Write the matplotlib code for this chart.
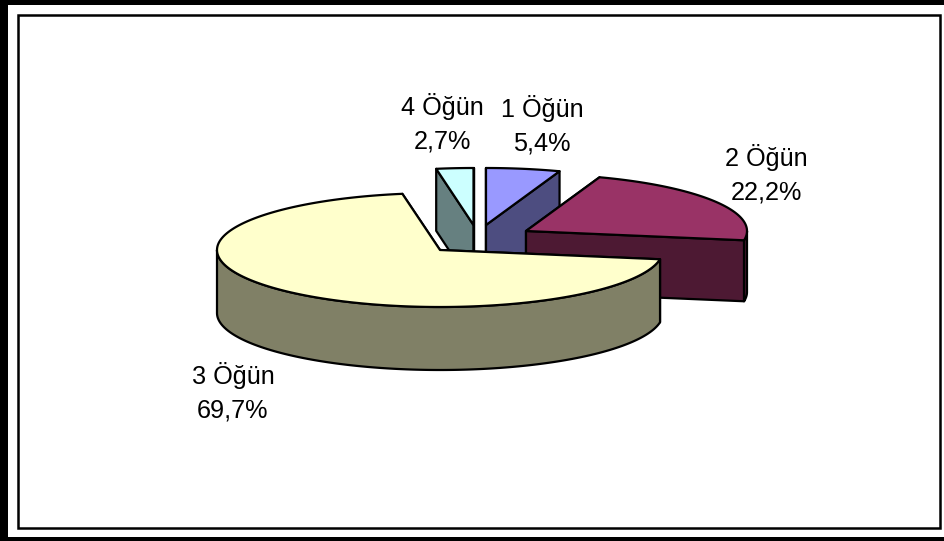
import numpy as np
import matplotlib
matplotlib.use('Agg')
import matplotlib.pyplot as plt
from matplotlib.patches import Rectangle, Polygon

plt.rcParams['font.family'] = ['Liberation Sans', 'DejaVu Sans']

names = ['1 Öğün', '2 Öğün', '3 Öğün', '4 Öğün']
values = [5.4, 22.2, 69.7, 2.7]

top_colors = ['#9999FF', '#993366', '#FFFFCC', '#CCFFFF']
side_colors = ['#4D4D80', '#4D1933', '#808066', '#668080']

# pie tip of every slice (they are pulled apart), pixels
tips = [(486, 225), (526, 231), (440, 250), (473.5, 225)]
radii = [221, 221, 223, 221]
depths = [62, 61, 63, 62]
label_pos = [(542, 125), (766, 174), (233, 392), (442, 123.5)]
ry = 57

fig = plt.figure(figsize=(9.45, 5.41), dpi=100)
ax = fig.add_axes([0, 0, 1, 1])
ax.set_xlim(0, 945)
ax.set_ylim(541, 0)
ax.axis('off')

# outer black border, then the thin chart frame
ax.add_patch(Rectangle((0, 0), 945, 5, color='black', lw=0))
ax.add_patch(Rectangle((0, 537), 945, 4, color='black', lw=0))
ax.add_patch(Rectangle((0, 0), 7.5, 541, color='black', lw=0))
ax.add_patch(Rectangle((18, 15), 922, 513, fill=False, ec='black', lw=1.8))


def arc(tip, rx, a1, a2):
    t = np.radians(np.linspace(a1, a2, 200))
    return np.column_stack([tip[0] + rx * np.cos(t), tip[1] - ry * np.sin(t)])


def face(points, color):
    ax.add_patch(Polygon(points, closed=True, fc=color, ec='black', lw=1.6, joinstyle='round'))


def draw_slice(i, a1, a2):
    tip = np.array(tips[i], dtype=float)
    rx = radii[i]
    down = np.array([0, depths[i]])
    rim = arc(tip, rx, a1, a2)
    # cut walls first, the one facing us decides what is seen
    for end in (rim[0], rim[-1]):
        face([tip, end, end + down, tip + down], side_colors[i])
    # outer wall, only the front half of the ellipse
    lo, hi = min(a1, a2), max(a1, a2)
    for k in (-360, 0):
        s, e = max(lo, 180 + k), min(hi, 360 + k)
        if s < e:
            part = arc(tip, rx, s, e)
            face(np.vstack([part, (part + down)[::-1]]), side_colors[i])
    face(np.vstack([tip, rim]), top_colors[i])


# slices run clockwise from 12 o'clock
ends = 90 - np.cumsum([0] + values) * 3.6
for i in [3, 0, 1, 2]:
    draw_slice(i, ends[i], ends[i + 1])

for i in range(4):
    ax.text(label_pos[i][0], label_pos[i][1], f"{names[i]}\n{str(values[i]).replace('.', ',')}%",
            ha='center', va='center', fontsize=18.2, linespacing=1.48, color='black')

fig.savefig('out.png', dpi=100)
